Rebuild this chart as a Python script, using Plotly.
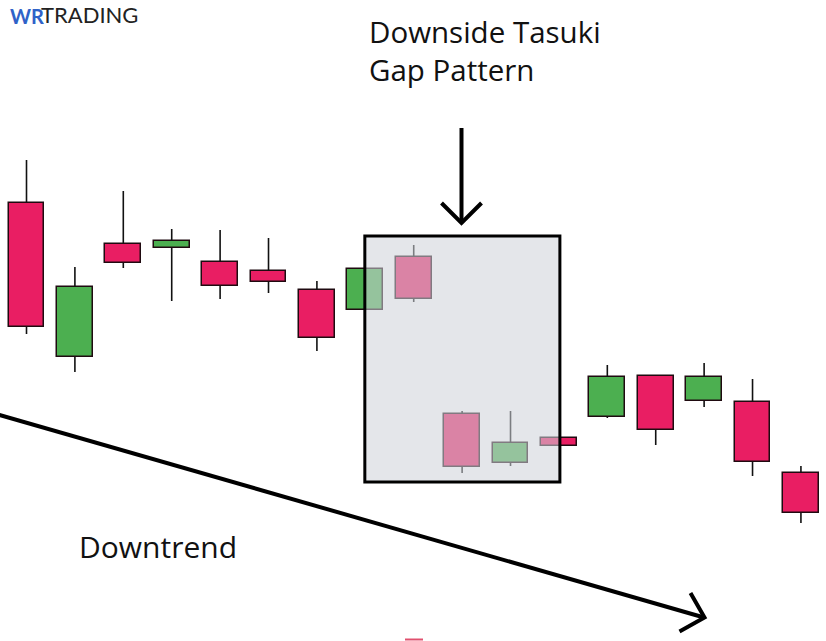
import plotly.graph_objects as go

# ---- data (price units) ----
idx = list(range(17))
opens  = [79.7, 64.3, 75.6, 75.2, 73.8, 72.9, 71.0, 69.0, 74.3, 58.6, 53.7, 56.2, 58.3, 62.4, 59.9, 59.8, 52.7]
highs  = [84.0, 73.3, 80.9, 77.1, 77.0, 76.2, 71.9, 73.1, 75.5, 58.9, 58.9, 56.2, 63.5, 62.4, 63.7, 62.1, 53.4]
lows   = [66.6, 62.8, 73.2, 69.9, 70.1, 70.7, 64.9, 69.0, 69.8, 52.7, 53.4, 55.4, 58.2, 55.5, 59.3, 52.4, 47.7]
closes = [67.3, 71.3, 73.7, 75.9, 71.4, 71.8, 66.2, 73.1, 70.1, 53.3, 55.7, 55.4, 62.3, 57.0, 62.3, 53.8, 48.7]

pattern_start, pattern_end = 6.99, 11.02
pattern_top, pattern_bottom = 76.4, 51.8

title_text = "Downside Tasuki<br>Gap Pattern"
trend_text = "Downtrend"

RED = "#e91e63"
GREEN = "#4caf50"
W, H = 826, 641

def px(x):
    return x / W

def py(y):
    return 1 - y / H

fig = go.Figure()

# wicks (upper and lower parts, outside the body)
wx, wy = [], []
for i, o, h, l, c in zip(idx, opens, highs, lows, closes):
    top, bot = max(o, c), min(o, c)
    if h > top:
        wx += [i, i, None]
        wy += [top, h, None]
    if l < bot:
        wx += [i, i, None]
        wy += [l, bot, None]
fig.add_trace(go.Scatter(x=wx, y=wy, mode="lines",
                         line=dict(color="#111111", width=1.6),
                         hoverinfo="skip", showlegend=False))

# bodies
base = [min(o, c) for o, c in zip(opens, closes)]
height = [abs(c - o) for o, c in zip(opens, closes)]
colors = [GREEN if c > o else RED for o, c in zip(opens, closes)]
fig.add_trace(go.Bar(x=idx, y=height, base=base, width=0.74,
                     marker=dict(color=colors, line=dict(color="#1f0a10", width=1.5)),
                     showlegend=False, hoverinfo="skip"))

shapes = []
# pattern box
shapes.append(dict(type="rect", xref="x", yref="y",
                   x0=pattern_start, x1=pattern_end, y0=pattern_bottom, y1=pattern_top,
                   fillcolor="rgba(207,210,217,0.56)", line=dict(color="black", width=3),
                   layer="above"))
# down arrow
shapes.append(dict(type="line", xref="paper", yref="paper",
                   x0=px(461.5), x1=px(461.5), y0=py(128), y1=py(222),
                   line=dict(color="black", width=4)))
shapes.append(dict(type="path", xref="paper", yref="paper",
                   path=f"M {px(441.5)},{py(203)} L {px(461.5)},{py(223)} L {px(481.5)},{py(203)}",
                   line=dict(color="black", width=4)))
# downtrend line
shapes.append(dict(type="line", xref="paper", yref="paper",
                   x0=px(-2), y0=py(414.5), x1=px(704), y1=py(617.5),
                   line=dict(color="black", width=4)))
shapes.append(dict(type="path", xref="paper", yref="paper",
                   path=f"M {px(690.5)},{py(593)} L {px(704.5)},{py(617.5)} L {px(679.5)},{py(631.5)}",
                   line=dict(color="black", width=4)))
# small cut-off mark at the bottom edge
shapes.append(dict(type="line", xref="paper", yref="paper",
                   x0=px(405), x1=px(423), y0=py(639.5), y1=py(639.5),
                   line=dict(color="#e0506e", width=2)))

FONT = "Open Sans"
annotations = [
    dict(text=title_text, xref="paper", yref="paper", x=px(367), y=py(82),
         xanchor="left", yanchor="bottom", align="left", showarrow=False, yshift=-10,
         font=dict(family=FONT, size=29.5, color="#111111")),
    dict(text=trend_text, xref="paper", yref="paper", x=px(77), y=py(560),
         xanchor="left", yanchor="bottom", align="left", showarrow=False, yshift=-9,
         font=dict(family=FONT, size=30, color="#111111")),
    dict(text="<b>WR</b>", xref="paper", yref="paper",
         x=px(8), y=py(26), xanchor="left", yanchor="bottom", showarrow=False, yshift=-4,
         font=dict(family="Lato", size=20, color="#2f62c8")),
    dict(text="TRADING", xref="paper", yref="paper",
         x=px(39), y=py(26), xanchor="left", yanchor="bottom", showarrow=False, yshift=-4,
         font=dict(family="Lato", size=22, color="#222222")),
]

fig.update_layout(
    width=W, height=H, margin=dict(l=0, r=0, t=0, b=0),
    paper_bgcolor="white", plot_bgcolor="white",
    xaxis=dict(range=[-0.5475, 16.518], visible=False, fixedrange=True),
    yaxis=dict(range=[35.9, 100], visible=False, fixedrange=True),
    shapes=shapes, annotations=annotations, bargap=0, showlegend=False,
)

fig.write_html("out.html", config={"displayModeBar": False},
               post_script="document.body.style.margin='0';")
